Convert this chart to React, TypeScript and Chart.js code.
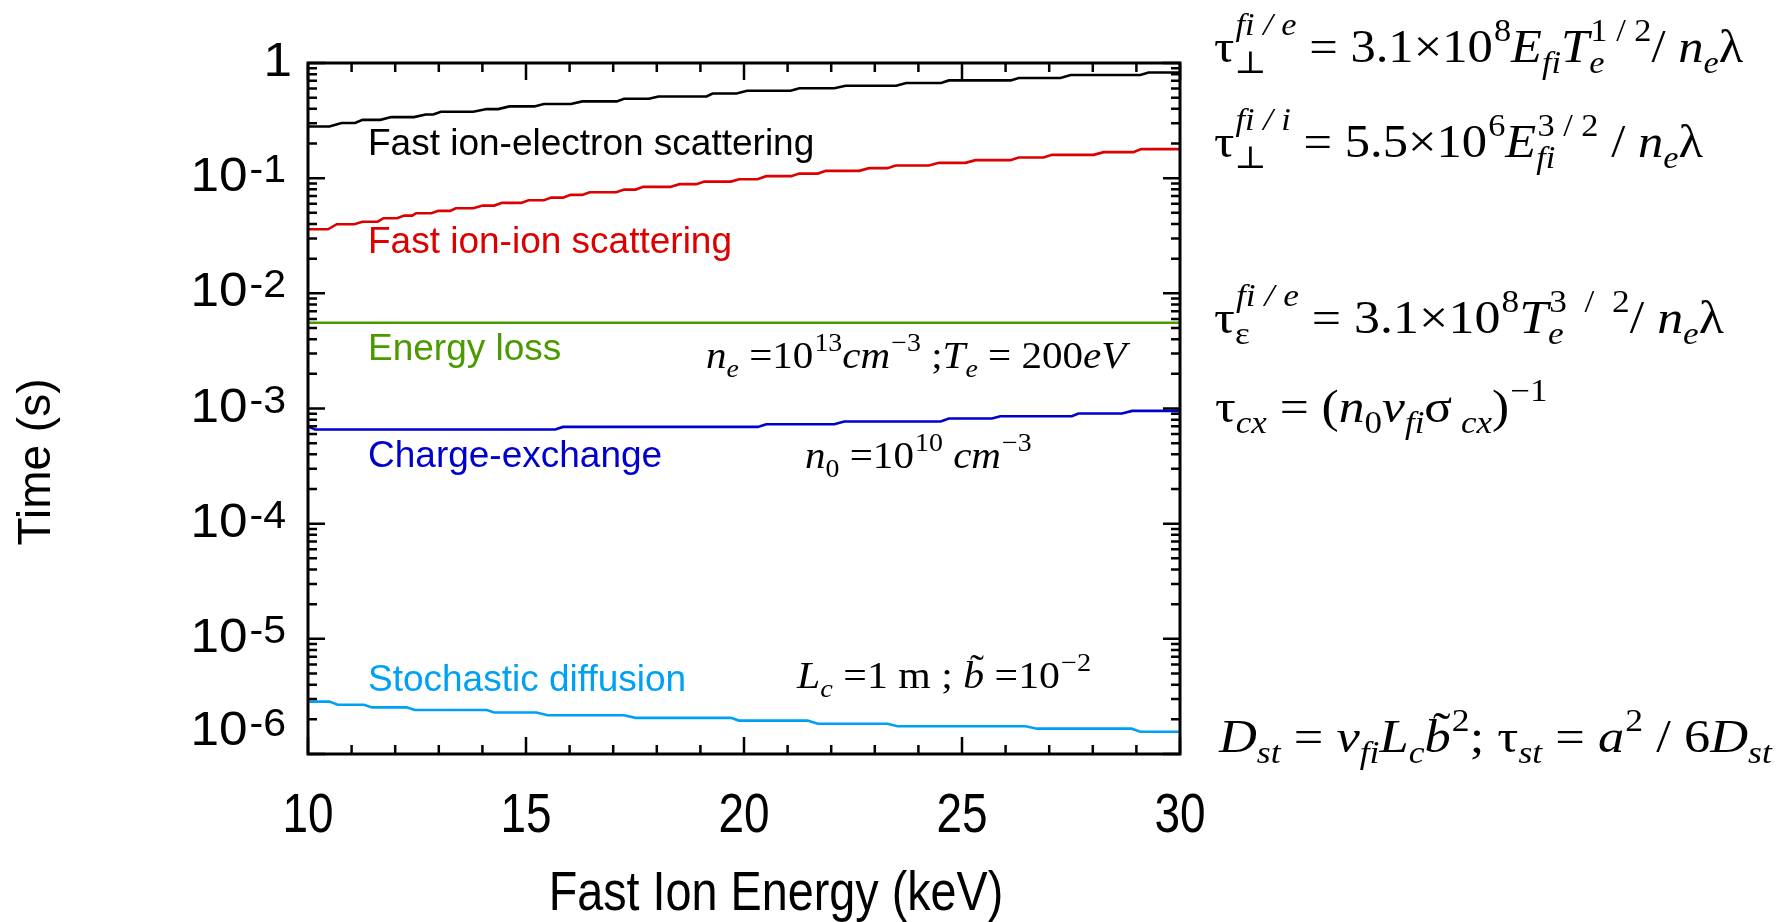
import React, { useEffect, useRef } from 'react';
import { Chart, registerables } from 'chart.js';

Chart.register(...registerables);

const W = 1790;
const H = 922;

// Time constants [s] versus fast-ion energy [keV]. Each curve is stored as
// flat steps: step start energy, step end energy, level.
const ionElectronStart = [10.0, 10.77, 11.25, 11.91, 12.7, 13.05, 14.1, 14.62, 15.41, 16.29, 17.25, 18.04, 19.28, 20.07, 21.27, 22.33, 23.72, 24.7, 26.3, 27.49, 29.28];
const ionElectronEnd = [10.49, 11.08, 11.66, 12.43, 12.87, 13.79, 14.36, 15.19, 16.03, 17.08, 17.82, 19.14, 19.83, 21.07, 22.07, 23.49, 24.52, 26.12, 27.26, 29.09, 30.0];
const ionElectronTime = [0.281, 0.301, 0.321, 0.339, 0.357, 0.377, 0.398, 0.42, 0.44, 0.464, 0.489, 0.512, 0.543, 0.574, 0.604, 0.635, 0.67, 0.706, 0.741, 0.786, 0.828];

const ionIonStart = [10.0, 10.66, 11.25, 11.73, 12.21, 12.48, 12.99, 13.39, 14.01, 14.45, 15.06, 15.58, 16.02, 16.46, 17.25, 17.69, 18.52, 19.09, 19.89, 20.51, 21.27, 21.88, 22.87, 23.48, 24.47, 25.31, 26.3, 27.06, 28.25, 29.11];
const ionIonEnd = [10.46, 11.06, 11.6, 12.04, 12.39, 12.83, 13.26, 13.79, 14.27, 14.89, 15.41, 15.85, 16.29, 17.07, 17.51, 18.31, 18.91, 19.7, 20.31, 21.08, 21.69, 22.64, 23.29, 24.24, 25.08, 26.11, 26.87, 28.02, 28.93, 30.0];
const ionIonTime = [0.036, 0.0398, 0.0419, 0.0449, 0.0473, 0.0496, 0.052, 0.0548, 0.0578, 0.061, 0.0644, 0.0678, 0.0716, 0.0755, 0.0796, 0.084, 0.0887, 0.0934, 0.098, 0.1041, 0.1096, 0.1157, 0.1222, 0.1287, 0.1358, 0.1434, 0.151, 0.1594, 0.1683, 0.1788];

const energyLossStart = [10.0];
const energyLossEnd = [30.0];
const energyLossTime = [0.00555];

const chargeExStart = [10.0, 10.16, 15.85, 20.51, 22.3, 24.7, 25.88, 27.67, 28.9];
const chargeExEnd = [10.0, 15.67, 20.32, 22.07, 24.51, 25.69, 27.52, 28.67, 30.0];
const chargeExTime = [7.0e-4, 6.57e-4, 6.92e-4, 7.3e-4, 7.71e-4, 8.18e-4, 8.57e-4, 9.05e-4, 9.53e-4];

const stochStart = [10.0, 10.68, 11.47, 12.45, 14.27, 15.5, 17.51, 19.88, 21.69, 23.52, 26.72, 29.09];
const stochEnd = [10.49, 11.28, 12.26, 14.1, 15.24, 17.25, 19.7, 21.46, 23.29, 26.46, 28.89, 30.0];
const stochTime = [2.85e-6, 2.68e-6, 2.54e-6, 2.41e-6, 2.29e-6, 2.17e-6, 2.06e-6, 1.95e-6, 1.83e-6, 1.74e-6, 1.66e-6, 1.56e-6];

// Axis ticks
const xTicks = [10, 15, 20, 25, 30];
const xTickLabels = ['10', '15', '20', '25', '30'];
const yDecades = [0, -1, -2, -3, -4, -5, -6];
const yTickLabels = ['1', '10|-1', '10|-2', '10|-3', '10|-4', '10|-5', '10|-6'];

const C_BLACK = '#000000';
const C_RED = '#dd0000';
const C_GREEN = '#4a9a00';
const C_BLUE = '#0000cc';
const C_CYAN = '#00a0f4';

const SANS = '"Liberation Sans", Arial, sans-serif';
const SERIF = '"Liberation Serif", "DejaVu Serif", serif';

function steps(start: number[], end: number[], level: number[]) {
  const pts: { x: number; y: number }[] = [];
  for (let i = 0; i < level.length; i++) {
    pts.push({ x: start[i], y: level[i] });
    pts.push({ x: end[i], y: level[i] });
  }
  return pts;
}

type Tok = {
  t?: string;
  it?: boolean;
  tilde?: boolean;
  sup?: string;
  sub?: string;
  supIt?: boolean;
  subIt?: boolean;
};

function fontOf(size: number, it: boolean, family: string) {
  return `${it ? 'italic ' : ''}${size}px ${family}`;
}

// Formula text: main runs, with optional super/subscripts stacked after them.
function drawRich(ctx: CanvasRenderingContext2D, toks: Tok[], x0: number, base: number, size: number, sx: number, color: string) {
  ctx.save();
  ctx.translate(x0, base);
  ctx.scale(sx, 1);
  ctx.fillStyle = color;
  ctx.textAlign = 'left';
  ctx.textBaseline = 'alphabetic';
  const small = size * 0.68;
  let x = 0;
  for (const tk of toks) {
    if (tk.t) {
      ctx.font = fontOf(size, !!tk.it, SERIF);
      ctx.fillText(tk.t, x, 0);
      const w = ctx.measureText(tk.t).width;
      if (tk.tilde) {
        ctx.font = fontOf(size, false, SERIF);
        const tw = ctx.measureText('˜').width;
        ctx.fillText('˜', x + w / 2 - tw / 2 + size * 0.08, -size * 0.18);
      }
      x += w;
    }
    let adv = 0;
    if (tk.sup) {
      const raise = tk.sub && tk.supIt ? 0.58 : 0.45;
      ctx.font = fontOf(small, !!tk.supIt, SERIF);
      ctx.fillText(tk.sup, x + 1, -size * raise);
      adv = Math.max(adv, ctx.measureText(tk.sup).width + 1);
    }
    if (tk.sub) {
      ctx.font = fontOf(small, !!tk.subIt, SERIF);
      ctx.fillText(tk.sub, x, size * 0.24);
      adv = Math.max(adv, ctx.measureText(tk.sub).width);
    }
    x += adv;
  }
  ctx.restore();
}

function drawSans(ctx: CanvasRenderingContext2D, text: string, x: number, base: number, size: number, sx: number, color: string, align: 'left' | 'center' | 'right') {
  ctx.save();
  ctx.font = `${size}px ${SANS}`;
  ctx.fillStyle = color;
  ctx.textBaseline = 'alphabetic';
  const w = ctx.measureText(text).width * sx;
  const left = align === 'left' ? x : align === 'center' ? x - w / 2 : x - w;
  ctx.translate(left, base);
  ctx.scale(sx, 1);
  ctx.textAlign = 'left';
  ctx.fillText(text, 0, 0);
  ctx.restore();
}

function sansWidth(ctx: CanvasRenderingContext2D, text: string, size: number, sx: number) {
  ctx.save();
  ctx.font = `${size}px ${SANS}`;
  const w = ctx.measureText(text).width * sx;
  ctx.restore();
  return w;
}

const eqPerpE: Tok[] = [
  { t: 'τ' }, { sub: '⊥', sup: 'fi / e', supIt: true },
  { t: ' = 3.1×10' }, { sup: '8' },
  { t: 'E', it: true }, { sub: 'fi', subIt: true },
  { t: 'T', it: true }, { sub: 'e', subIt: true, sup: '1 / 2' },
  { t: '/ ' }, { t: 'n', it: true }, { sub: 'e', subIt: true }, { t: 'λ' },
];
const eqPerpI: Tok[] = [
  { t: 'τ' }, { sub: '⊥', sup: 'fi / i', supIt: true },
  { t: ' = 5.5×10' }, { sup: '6' },
  { t: 'E', it: true }, { sub: 'fi', subIt: true, sup: '3 / 2' },
  { t: ' / ' }, { t: 'n', it: true }, { sub: 'e', subIt: true }, { t: 'λ' },
];
const eqEnergy: Tok[] = [
  { t: 'τ' }, { sub: 'ε', sup: 'fi / e', supIt: true },
  { t: ' = 3.1×10' }, { sup: '8' },
  { t: 'T', it: true }, { sub: 'e', subIt: true, sup: '3  /  2' },
  { t: '/ ' }, { t: 'n', it: true }, { sub: 'e', subIt: true }, { t: 'λ' },
];
const eqCx: Tok[] = [
  { t: 'τ' }, { sub: 'cx', subIt: true },
  { t: ' = (' }, { t: 'n', it: true }, { sub: '0' },
  { t: 'v', it: true }, { sub: 'fi', subIt: true },
  { t: 'σ' }, { sub: ' cx', subIt: true }, { t: ')' }, { sup: '−1' },
];
const eqStoch: Tok[] = [
  { t: 'D', it: true }, { sub: 'st', subIt: true },
  { t: ' = ' }, { t: 'v', it: true }, { sub: 'fi', subIt: true },
  { t: 'L', it: true }, { sub: 'c', subIt: true },
  { t: 'b', it: true, tilde: true }, { sup: '2' },
  { t: '; τ' }, { sub: 'st', subIt: true },
  { t: ' = ' }, { t: 'a', it: true }, { sup: '2' },
  { t: ' / 6' }, { t: 'D', it: true }, { sub: 'st', subIt: true },
];
const noteDensity: Tok[] = [
  { t: 'n', it: true }, { sub: 'e', subIt: true },
  { t: ' =10' }, { sup: '13' },
  { t: 'cm', it: true }, { sup: '−3' },
  { t: ' ;' }, { t: 'T', it: true }, { sub: 'e', subIt: true },
  { t: ' = 200' }, { t: 'eV', it: true },
];
const noteNeutral: Tok[] = [
  { t: 'n', it: true }, { sub: '0' },
  { t: ' =10' }, { sup: '10' },
  { t: ' cm', it: true }, { sup: '−3' },
];
const noteStoch: Tok[] = [
  { t: 'L', it: true }, { sub: 'c', subIt: true },
  { t: ' =1 m ; ' }, { t: 'b', it: true, tilde: true },
  { t: ' =10' }, { sup: '−2' },
];

const decorations = {
  id: 'decorations',
  afterDatasetsDraw(chart: any) {
    const { ctx, chartArea: a, scales } = chart;
    const xs = scales.x;
    const ys = scales.y;
    ctx.save();
    ctx.strokeStyle = '#000';
    ctx.lineCap = 'butt';

    // Inward ticks on all four sides
    ctx.lineWidth = 2.5;
    ctx.beginPath();
    for (let v = 10; v <= 30; v++) {
      const px = xs.getPixelForValue(v);
      const len = v % 5 === 0 ? 17 : 9;
      ctx.moveTo(px, a.top); ctx.lineTo(px, a.top + len);
      ctx.moveTo(px, a.bottom); ctx.lineTo(px, a.bottom - len);
    }
    for (const d of yDecades) {
      for (let m = 1; m <= 9; m++) {
        if (d === 0 && m > 1) continue;
        const py = ys.getPixelForValue(m * Math.pow(10, d));
        const len = m === 1 ? 17 : 9;
        ctx.moveTo(a.left, py); ctx.lineTo(a.left + len, py);
        ctx.moveTo(a.right, py); ctx.lineTo(a.right - len, py);
      }
    }
    ctx.stroke();

    ctx.lineWidth = 3;
    ctx.strokeRect(a.left, a.top, a.right - a.left, a.bottom - a.top);

    // Tick labels
    xTicks.forEach((v, i) => {
      drawSans(ctx, xTickLabels[i], xs.getPixelForValue(v), a.bottom + 78, 56, 0.82, '#000', 'center');
    });
    const ySize = 47.5;
    const ySx = 1.08;
    const eSize = 38;
    yDecades.forEach((d, i) => {
      const py = ys.getPixelForValue(Math.pow(10, d));
      const base = py + 13 - (i === yDecades.length - 1 ? 22 : 0);
      const [mant, expo] = yTickLabels[i].split('|');
      if (!expo) {
        drawSans(ctx, mant, 292, base, ySize, ySx, '#000', 'right');
        return;
      }
      const right = 286;
      const ew = sansWidth(ctx, expo, eSize, ySx);
      drawSans(ctx, expo, right, base - 9, eSize, ySx, '#000', 'right');
      drawSans(ctx, mant, right - ew - 2, base, ySize, ySx, '#000', 'right');
    });

    // Axis titles
    drawSans(ctx, 'Fast Ion Energy (keV)', 776, 910, 55, 0.85, '#000', 'center');
    ctx.save();
    ctx.translate(50, 462);
    ctx.rotate(-Math.PI / 2);
    drawSans(ctx, 'Time (s)', 0, 0, 46, 1.0, '#000', 'center');
    ctx.restore();

    // Curve labels
    drawSans(ctx, 'Fast ion-electron scattering', 368, 155, 37, 1.0, C_BLACK, 'left');
    drawSans(ctx, 'Fast ion-ion scattering', 368, 253, 37, 1.0, C_RED, 'left');
    drawSans(ctx, 'Energy loss', 368, 360, 37, 1.0, C_GREEN, 'left');
    drawSans(ctx, 'Charge-exchange', 368, 467, 37, 1.0, C_BLUE, 'left');
    drawSans(ctx, 'Stochastic diffusion', 368, 691, 37, 1.0, C_CYAN, 'left');

    // Parameter notes inside the frame
    drawRich(ctx, noteDensity, 706, 368, 38, 1.08, '#000');
    drawRich(ctx, noteNeutral, 805, 468, 38, 1.08, '#000');
    drawRich(ctx, noteStoch, 797, 688, 38, 1.1, '#000');

    // Formulas to the right of the frame
    drawRich(ctx, eqPerpE, 1214, 62, 46, 1.1, '#000');
    drawRich(ctx, eqPerpI, 1214, 157, 46, 1.1, '#000');
    drawRich(ctx, eqEnergy, 1214, 333, 46, 1.13, '#000');
    drawRich(ctx, eqCx, 1215, 422, 46, 1.12, '#000');
    drawRich(ctx, eqStoch, 1219, 752, 46, 1.14, '#000');

    ctx.restore();
  },
};

export default function App() {
  const ref = useRef<HTMLCanvasElement | null>(null);

  useEffect(() => {
    if (!ref.current) return;
    const line = (data: { x: number; y: number }[], color: string) => ({
      data,
      borderColor: color,
      backgroundColor: color,
      borderWidth: 2.6,
      pointRadius: 0,
      showLine: true,
      tension: 0,
      fill: false,
    });
    const chart = new Chart(ref.current, {
      type: 'scatter',
      data: {
        datasets: [
          line(steps(ionElectronStart, ionElectronEnd, ionElectronTime), C_BLACK),
          line(steps(ionIonStart, ionIonEnd, ionIonTime), C_RED),
          line(steps(energyLossStart, energyLossEnd, energyLossTime), C_GREEN),
          line(steps(chargeExStart, chargeExEnd, chargeExTime), C_BLUE),
          line(steps(stochStart, stochEnd, stochTime), C_CYAN),
        ],
      },
      options: {
        animation: false,
        responsive: false,
        devicePixelRatio: 1,
        layout: { padding: { left: 308, right: W - 1180, top: 63, bottom: H - 754 } },
        plugins: { legend: { display: false }, tooltip: { enabled: false } },
        scales: {
          x: { type: 'linear', min: 10, max: 30, display: false },
          y: { type: 'logarithmic', min: 1e-6, max: 1, display: false },
        },
      },
      plugins: [decorations],
    });
    return () => chart.destroy();
  }, []);

  return (
    <div style={{ position: 'absolute', left: 0, top: 0, width: W, height: H, background: '#fff' }}>
      <canvas ref={ref} width={W} height={H} style={{ display: 'block' }} />
    </div>
  );
}
